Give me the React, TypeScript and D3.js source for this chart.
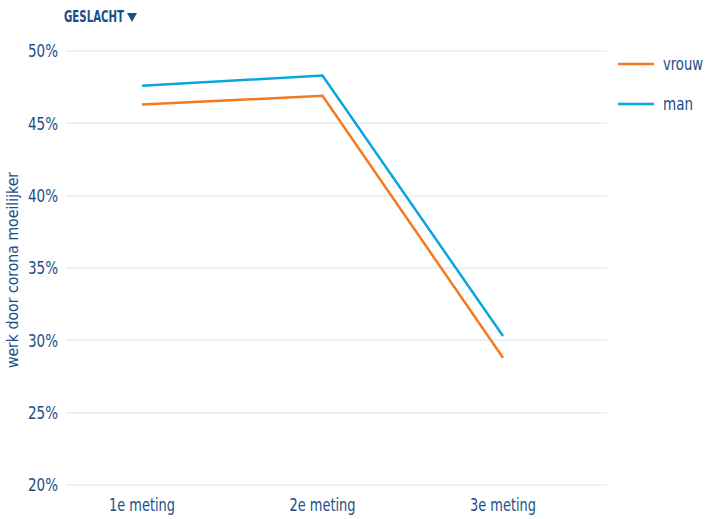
import React, { useLayoutEffect, useRef, useState } from "react";
import * as d3 from "d3";

const categories = ["1e meting", "2e meting", "3e meting"];
const seriesNames = ["vrouw", "man"];
const vrouw = [46.3, 46.9, 28.8];
const man = [47.6, 48.3, 30.3];
const yTicks = [20, 25, 30, 35, 40, 45, 50];
const colors = ["#f47a20", "#0aa5df"];

const W = 705;
const H = 519;
const FONT = "'DejaVu Sans Condensed', 'DejaVu Sans', sans-serif";
const TEXT = "#1d4e89";

function FitText(props: {
  x: number;
  y: number;
  width: number;
  anchor?: "start" | "middle" | "end";
  rotate?: number;
  size: number;
  bold?: boolean;
  dy?: string;
  children: string;
}) {
  const ref = useRef<SVGTextElement>(null);
  const [sx, setSx] = useState(0.8);
  useLayoutEffect(() => {
    if (ref.current) {
      const w = ref.current.getComputedTextLength();
      if (w > 0) setSx(props.width / w);
    }
  }, [props.width, props.children]);
  const rot = props.rotate ? ` rotate(${props.rotate})` : "";
  return (
    <g transform={`translate(${props.x},${props.y})${rot} scale(${sx},1)`}>
      <text
        ref={ref}
        x={0}
        y={0}
        dy={props.dy}
        textAnchor={props.anchor || "start"}
        fontSize={props.size}
        fontWeight={props.bold ? "bold" : "normal"}
        fill={TEXT}
      >
        {props.children}
      </text>
    </g>
  );
}

export default function App() {
  const x = d3.scalePoint<string>().domain(categories).range([142, 503]);
  const y = d3.scaleLinear().domain([20, 50]).range([485, 51]);
  const line = d3
    .line<number>()
    .x((_, i) => x(categories[i]) as number)
    .y((d) => y(d));
  const series = [vrouw, man];
  return (
    <svg width={W} height={H} style={{ position: "absolute", left: 0, top: 0 }} fontFamily={FONT}>
      <FitText x={64} y={22} width={60} size={15} bold>
        GESLACHT
      </FitText>
      <path d="M127,13 L137,13 L132,22 Z" fill={TEXT} />
      {yTicks.map((t) => (
        <g key={t}>
          <line x1={66} x2={607} y1={y(t)} y2={y(t)} stroke="#e8edf3" strokeWidth={1.5} />
          <FitText x={58} y={y(t)} dy="0.36em" anchor="end" width={30} size={18}>
            {`${t}%`}
          </FitText>
        </g>
      ))}
      <FitText x={18} y={(y(20) + y(50)) / 2 + 2} rotate={-90} anchor="middle" width={196} size={16}>
        werk door corona moeilijker
      </FitText>
      {categories.map((c) => (
        <FitText key={c} x={x(c) as number} y={511} anchor="middle" width={66} size={18}>
          {c}
        </FitText>
      ))}
      {series.map((s, i) => (
        <path key={i} d={line(s) || ""} fill="none" stroke={colors[i]} strokeWidth={2.5} />
      ))}
      {seriesNames.map((n, i) => (
        <g key={n}>
          <line x1={618} x2={654} y1={64 + i * 40} y2={64 + i * 40} stroke={colors[i]} strokeWidth={2.5} />
          <FitText x={663} y={64 + i * 40} dy="0.32em" width={i === 0 ? 40 : 30} size={18}>
            {n}
          </FitText>
        </g>
      ))}
    </svg>
  );
}
